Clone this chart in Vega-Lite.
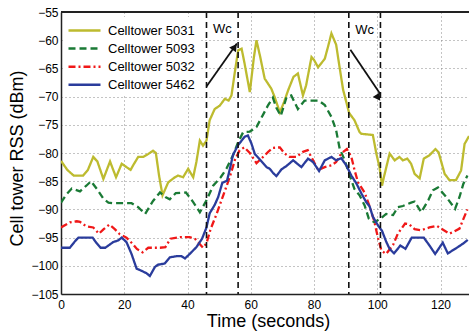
{
  "$schema": "https://vega.github.io/schema/vega-lite/v6.json",
  "width": 408,
  "height": 282,
  "autosize": {"type": "none"},
  "padding": {"left": 61, "top": 12, "right": 0, "bottom": 37},
  "config": {
    "font": "Liberation Sans",
    "view": {"stroke": null},
    "axis": {
      "grid": true,
      "gridDash": [1, 3],
      "gridColor": "#888",
      "gridWidth": 1,
      "domainColor": "#222",
      "domainWidth": 1.5,
      "ticks": false,
      "labelFontSize": 12,
      "labelFontWeight": "normal",
      "labelColor": "#000",
      "labelOverlap": false,
      "labelFlush": false,
      "titleFontSize": 18,
      "titleFontWeight": "normal",
      "titleColor": "#000"
    }
  },
  "datasets": {
    "series": [
      {"s":"Celltower 5031","t":0,"v":-81.4},{"s":"Celltower 5031","t":2,"v":-83},{"s":"Celltower 5031","t":4,"v":-84},{"s":"Celltower 5031","t":7,"v":-84},{"s":"Celltower 5031","t":8.5,"v":-83},{"s":"Celltower 5031","t":10.2,"v":-80.7},{"s":"Celltower 5031","t":11.5,"v":-81.5},{"s":"Celltower 5031","t":13.4,"v":-84.6},{"s":"Celltower 5031","t":15.5,"v":-81.5},{"s":"Celltower 5031","t":17.4,"v":-84.3},{"s":"Celltower 5031","t":19.2,"v":-81.9},{"s":"Celltower 5031","t":20.7,"v":-82.5},{"s":"Celltower 5031","t":22,"v":-83},{"s":"Celltower 5031","t":23,"v":-82},{"s":"Celltower 5031","t":24.4,"v":-80.7},{"s":"Celltower 5031","t":26,"v":-80.7},{"s":"Celltower 5031","t":27.5,"v":-80.2},{"s":"Celltower 5031","t":29.1,"v":-79.6},{"s":"Celltower 5031","t":30,"v":-80},{"s":"Celltower 5031","t":31,"v":-84},{"s":"Celltower 5031","t":32.1,"v":-87.5},{"s":"Celltower 5031","t":33.9,"v":-85.2},{"s":"Celltower 5031","t":36,"v":-84.3},{"s":"Celltower 5031","t":37,"v":-84},{"s":"Celltower 5031","t":38.6,"v":-84.3},{"s":"Celltower 5031","t":40.2,"v":-82.8},{"s":"Celltower 5031","t":41.8,"v":-84.3},{"s":"Celltower 5031","t":42.8,"v":-81.6},{"s":"Celltower 5031","t":43.9,"v":-77.8},{"s":"Celltower 5031","t":44.9,"v":-78.7},{"s":"Celltower 5031","t":46,"v":-77.8},{"s":"Celltower 5031","t":47,"v":-74.2},{"s":"Celltower 5031","t":48.6,"v":-72.2},{"s":"Celltower 5031","t":50.2,"v":-71.6},{"s":"Celltower 5031","t":51.8,"v":-70.4},{"s":"Celltower 5031","t":53,"v":-70.7},{"s":"Celltower 5031","t":53.9,"v":-69.8},{"s":"Celltower 5031","t":54.9,"v":-65.9},{"s":"Celltower 5031","t":56,"v":-61.8},{"s":"Celltower 5031","t":57.1,"v":-61.5},{"s":"Celltower 5031","t":58,"v":-64},{"s":"Celltower 5031","t":59.7,"v":-69.2},{"s":"Celltower 5031","t":61,"v":-63},{"s":"Celltower 5031","t":61.8,"v":-60},{"s":"Celltower 5031","t":63,"v":-63},{"s":"Celltower 5031","t":64.4,"v":-66.8},{"s":"Celltower 5031","t":66.5,"v":-68.6},{"s":"Celltower 5031","t":67.5,"v":-70},{"s":"Celltower 5031","t":69.2,"v":-72.8},{"s":"Celltower 5031","t":70.5,"v":-71},{"s":"Celltower 5031","t":71.8,"v":-68.9},{"s":"Celltower 5031","t":73.5,"v":-66.5},{"s":"Celltower 5031","t":74.9,"v":-65.9},{"s":"Celltower 5031","t":76.5,"v":-69.8},{"s":"Celltower 5031","t":77.5,"v":-68},{"s":"Celltower 5031","t":79.2,"v":-63},{"s":"Celltower 5031","t":80,"v":-63.5},{"s":"Celltower 5031","t":81.3,"v":-64.8},{"s":"Celltower 5031","t":83.4,"v":-63.3},{"s":"Celltower 5031","t":84.5,"v":-61},{"s":"Celltower 5031","t":85.5,"v":-58.8},{"s":"Celltower 5031","t":87,"v":-60.8},{"s":"Celltower 5031","t":88,"v":-64.5},{"s":"Celltower 5031","t":89.2,"v":-68.8},{"s":"Celltower 5031","t":91.1,"v":-72.9},{"s":"Celltower 5031","t":92.8,"v":-74.2},{"s":"Celltower 5031","t":94.4,"v":-76.3},{"s":"Celltower 5031","t":95,"v":-76.6},{"s":"Celltower 5031","t":98.6,"v":-76.8},{"s":"Celltower 5031","t":99.7,"v":-80.1},{"s":"Celltower 5031","t":100.7,"v":-82.5},{"s":"Celltower 5031","t":101.5,"v":-85.8},{"s":"Celltower 5031","t":102,"v":-84.5},{"s":"Celltower 5031","t":103.9,"v":-80.1},{"s":"Celltower 5031","t":105.5,"v":-81.3},{"s":"Celltower 5031","t":107,"v":-80.7},{"s":"Celltower 5031","t":108.1,"v":-81.3},{"s":"Celltower 5031","t":109.5,"v":-81},{"s":"Celltower 5031","t":110.7,"v":-81.9},{"s":"Celltower 5031","t":111.8,"v":-83.7},{"s":"Celltower 5031","t":113.4,"v":-84.5},{"s":"Celltower 5031","t":114.7,"v":-81},{"s":"Celltower 5031","t":116.5,"v":-80.4},{"s":"Celltower 5031","t":118.4,"v":-79.3},{"s":"Celltower 5031","t":119.4,"v":-79.9},{"s":"Celltower 5031","t":121.3,"v":-83.7},{"s":"Celltower 5031","t":122.8,"v":-84.8},{"s":"Celltower 5031","t":124.9,"v":-84.8},{"s":"Celltower 5031","t":126.5,"v":-83.1},{"s":"Celltower 5031","t":127.6,"v":-78.4},{"s":"Celltower 5031","t":129,"v":-77},

      {"s":"Celltower 5093","t":0,"v":-88.8},{"s":"Celltower 5093","t":1.5,"v":-87.5},{"s":"Celltower 5093","t":3.4,"v":-86.3},{"s":"Celltower 5093","t":6,"v":-86.8},{"s":"Celltower 5093","t":8,"v":-85.8},{"s":"Celltower 5093","t":9.5,"v":-85},{"s":"Celltower 5093","t":11.5,"v":-86.5},{"s":"Celltower 5093","t":13.4,"v":-88.1},{"s":"Celltower 5093","t":15,"v":-88.8},{"s":"Celltower 5093","t":16.5,"v":-88.9},{"s":"Celltower 5093","t":22.3,"v":-88.9},{"s":"Celltower 5093","t":24.4,"v":-89.6},{"s":"Celltower 5093","t":26.6,"v":-90.8},{"s":"Celltower 5093","t":29.1,"v":-88.5},{"s":"Celltower 5093","t":31.3,"v":-87},{"s":"Celltower 5093","t":33,"v":-87.8},{"s":"Celltower 5093","t":34.4,"v":-88.2},{"s":"Celltower 5093","t":36.3,"v":-87.1},{"s":"Celltower 5093","t":39.5,"v":-87},{"s":"Celltower 5093","t":41.8,"v":-88.7},{"s":"Celltower 5093","t":43.9,"v":-90.5},{"s":"Celltower 5093","t":46,"v":-88.4},{"s":"Celltower 5093","t":48.1,"v":-85.8},{"s":"Celltower 5093","t":50.5,"v":-84.3},{"s":"Celltower 5093","t":52.3,"v":-82.8},{"s":"Celltower 5093","t":53.4,"v":-81.5},{"s":"Celltower 5093","t":54.4,"v":-80.4},{"s":"Celltower 5093","t":56,"v":-78.1},{"s":"Celltower 5093","t":57.6,"v":-76.3},{"s":"Celltower 5093","t":59.7,"v":-76.2},{"s":"Celltower 5093","t":61.8,"v":-75.4},{"s":"Celltower 5093","t":63.9,"v":-73.2},{"s":"Celltower 5093","t":65.5,"v":-71.5},{"s":"Celltower 5093","t":67,"v":-70.2},{"s":"Celltower 5093","t":68.1,"v":-72},{"s":"Celltower 5093","t":69.5,"v":-73.4},{"s":"Celltower 5093","t":71.3,"v":-70.1},{"s":"Celltower 5093","t":72.8,"v":-69.8},{"s":"Celltower 5093","t":74.9,"v":-72.2},{"s":"Celltower 5093","t":77,"v":-70.7},{"s":"Celltower 5093","t":81.5,"v":-70.7},{"s":"Celltower 5093","t":83.4,"v":-71.5},{"s":"Celltower 5093","t":85.5,"v":-73.6},{"s":"Celltower 5093","t":87,"v":-76},{"s":"Celltower 5093","t":88.1,"v":-79.2},{"s":"Celltower 5093","t":89.7,"v":-81.3},{"s":"Celltower 5093","t":91.3,"v":-84},{"s":"Celltower 5093","t":92.8,"v":-86.4},{"s":"Celltower 5093","t":94.4,"v":-87.5},{"s":"Celltower 5093","t":96,"v":-89.3},{"s":"Celltower 5093","t":97.3,"v":-91.6},{"s":"Celltower 5093","t":99.1,"v":-92.3},{"s":"Celltower 5093","t":101.3,"v":-91.5},{"s":"Celltower 5093","t":102.8,"v":-90.8},{"s":"Celltower 5093","t":105,"v":-91},{"s":"Celltower 5093","t":106.5,"v":-89.6},{"s":"Celltower 5093","t":108.1,"v":-89.4},{"s":"Celltower 5093","t":110.7,"v":-88.8},{"s":"Celltower 5093","t":111.8,"v":-88.6},{"s":"Celltower 5093","t":113.9,"v":-90.5},{"s":"Celltower 5093","t":116.2,"v":-88.3},{"s":"Celltower 5093","t":117.6,"v":-86.6},{"s":"Celltower 5093","t":119.2,"v":-86.1},{"s":"Celltower 5093","t":121.8,"v":-87.8},{"s":"Celltower 5093","t":124.6,"v":-89.9},{"s":"Celltower 5093","t":126,"v":-87.8},{"s":"Celltower 5093","t":127.2,"v":-85.5},{"s":"Celltower 5093","t":128.5,"v":-84},

      {"s":"Celltower 5032","t":0,"v":-93.2},{"s":"Celltower 5032","t":2.8,"v":-92.3},{"s":"Celltower 5032","t":5,"v":-92.1},{"s":"Celltower 5032","t":6,"v":-92.2},{"s":"Celltower 5032","t":8,"v":-93},{"s":"Celltower 5032","t":10.2,"v":-93.2},{"s":"Celltower 5032","t":12,"v":-94.3},{"s":"Celltower 5032","t":13.5,"v":-93.5},{"s":"Celltower 5032","t":15.3,"v":-92.7},{"s":"Celltower 5032","t":17,"v":-93.5},{"s":"Celltower 5032","t":18.6,"v":-94.4},{"s":"Celltower 5032","t":20.7,"v":-95},{"s":"Celltower 5032","t":22.8,"v":-96.2},{"s":"Celltower 5032","t":24,"v":-97},{"s":"Celltower 5032","t":25.8,"v":-97.6},{"s":"Celltower 5032","t":27.6,"v":-96.8},{"s":"Celltower 5032","t":31.3,"v":-96.8},{"s":"Celltower 5032","t":33,"v":-96.7},{"s":"Celltower 5032","t":34.6,"v":-95.2},{"s":"Celltower 5032","t":37.6,"v":-94.9},{"s":"Celltower 5032","t":40.7,"v":-94.9},{"s":"Celltower 5032","t":42.5,"v":-95.3},{"s":"Celltower 5032","t":44.9,"v":-96.8},{"s":"Celltower 5032","t":46,"v":-96},{"s":"Celltower 5032","t":47.3,"v":-93.5},{"s":"Celltower 5032","t":49.2,"v":-90.8},{"s":"Celltower 5032","t":51.3,"v":-87.5},{"s":"Celltower 5032","t":53.4,"v":-84.2},{"s":"Celltower 5032","t":55,"v":-81.2},{"s":"Celltower 5032","t":56.5,"v":-79.5},{"s":"Celltower 5032","t":58,"v":-79},{"s":"Celltower 5032","t":59.7,"v":-80},{"s":"Celltower 5032","t":61.8,"v":-81.8},{"s":"Celltower 5032","t":63.9,"v":-80.7},{"s":"Celltower 5032","t":65.5,"v":-79.8},{"s":"Celltower 5032","t":67,"v":-79.1},{"s":"Celltower 5032","t":69.2,"v":-79},{"s":"Celltower 5032","t":70.7,"v":-80.1},{"s":"Celltower 5032","t":72.3,"v":-80.7},{"s":"Celltower 5032","t":74.4,"v":-80.7},{"s":"Celltower 5032","t":76.5,"v":-79.8},{"s":"Celltower 5032","t":78,"v":-79.5},{"s":"Celltower 5032","t":81.3,"v":-83},{"s":"Celltower 5032","t":83.4,"v":-82.5},{"s":"Celltower 5032","t":85.5,"v":-82.2},{"s":"Celltower 5032","t":87,"v":-81.6},{"s":"Celltower 5032","t":88.6,"v":-80.1},{"s":"Celltower 5032","t":90.4,"v":-79.3},{"s":"Celltower 5032","t":91.8,"v":-80.7},{"s":"Celltower 5032","t":92.8,"v":-83},{"s":"Celltower 5032","t":93.9,"v":-85.2},{"s":"Celltower 5032","t":96,"v":-87},{"s":"Celltower 5032","t":97.6,"v":-89.5},{"s":"Celltower 5032","t":99,"v":-92},{"s":"Celltower 5032","t":100.2,"v":-95},{"s":"Celltower 5032","t":101.3,"v":-97.3},{"s":"Celltower 5032","t":102.8,"v":-97.9},{"s":"Celltower 5032","t":105,"v":-96.3},{"s":"Celltower 5032","t":106.5,"v":-94.3},{"s":"Celltower 5032","t":108.8,"v":-92.5},{"s":"Celltower 5032","t":110,"v":-92.6},{"s":"Celltower 5032","t":111.8,"v":-93.5},{"s":"Celltower 5032","t":113.9,"v":-93.7},{"s":"Celltower 5032","t":116.5,"v":-93.2},{"s":"Celltower 5032","t":118.8,"v":-92.9},{"s":"Celltower 5032","t":120.2,"v":-93.4},{"s":"Celltower 5032","t":122.8,"v":-94.3},{"s":"Celltower 5032","t":124.4,"v":-93.9},{"s":"Celltower 5032","t":126,"v":-93.4},{"s":"Celltower 5032","t":127,"v":-92},{"s":"Celltower 5032","t":128.5,"v":-90},

      {"s":"Celltower 5462","t":0,"v":-96.8},{"s":"Celltower 5462","t":2.8,"v":-96.8},{"s":"Celltower 5462","t":4.5,"v":-95.6},{"s":"Celltower 5462","t":5.5,"v":-95},{"s":"Celltower 5462","t":10,"v":-95},{"s":"Celltower 5462","t":11,"v":-95.8},{"s":"Celltower 5462","t":12.5,"v":-96.8},{"s":"Celltower 5462","t":14,"v":-96.8},{"s":"Celltower 5462","t":16.5,"v":-95.8},{"s":"Celltower 5462","t":18.1,"v":-95.5},{"s":"Celltower 5462","t":19.2,"v":-95},{"s":"Celltower 5462","t":20.7,"v":-95.8},{"s":"Celltower 5462","t":22.3,"v":-97.9},{"s":"Celltower 5462","t":23.9,"v":-100.5},{"s":"Celltower 5462","t":25.5,"v":-100.9},{"s":"Celltower 5462","t":27,"v":-101.3},{"s":"Celltower 5462","t":28.1,"v":-101.8},{"s":"Celltower 5462","t":29.7,"v":-100.2},{"s":"Celltower 5462","t":30.7,"v":-99.8},{"s":"Celltower 5462","t":32.8,"v":-99.6},{"s":"Celltower 5462","t":34.4,"v":-98.5},{"s":"Celltower 5462","t":36.5,"v":-98.3},{"s":"Celltower 5462","t":38.1,"v":-98.3},{"s":"Celltower 5462","t":39.2,"v":-98.7},{"s":"Celltower 5462","t":40.7,"v":-97.9},{"s":"Celltower 5462","t":42.8,"v":-96.7},{"s":"Celltower 5462","t":44.6,"v":-95.2},{"s":"Celltower 5462","t":46,"v":-93.2},{"s":"Celltower 5462","t":47,"v":-90.7},{"s":"Celltower 5462","t":48.6,"v":-89.2},{"s":"Celltower 5462","t":49.7,"v":-87.8},{"s":"Celltower 5462","t":51,"v":-85.3},{"s":"Celltower 5462","t":52.5,"v":-84.9},{"s":"Celltower 5462","t":53.4,"v":-82.8},{"s":"Celltower 5462","t":54.4,"v":-80.3},{"s":"Celltower 5462","t":56,"v":-78.6},{"s":"Celltower 5462","t":58.1,"v":-77.1},{"s":"Celltower 5462","t":59.1,"v":-76.9},{"s":"Celltower 5462","t":60.2,"v":-78.3},{"s":"Celltower 5462","t":61.3,"v":-80.2},{"s":"Celltower 5462","t":62.8,"v":-81.1},{"s":"Celltower 5462","t":65,"v":-82.5},{"s":"Celltower 5462","t":66,"v":-82.8},{"s":"Celltower 5462","t":67,"v":-83.5},{"s":"Celltower 5462","t":68.1,"v":-84.1},{"s":"Celltower 5462","t":69.7,"v":-82.9},{"s":"Celltower 5462","t":71.3,"v":-82.3},{"s":"Celltower 5462","t":73.4,"v":-81.3},{"s":"Celltower 5462","t":74.5,"v":-81.8},{"s":"Celltower 5462","t":76,"v":-82.5},{"s":"Celltower 5462","t":78.1,"v":-81},{"s":"Celltower 5462","t":79.7,"v":-81.6},{"s":"Celltower 5462","t":81.6,"v":-83.2},{"s":"Celltower 5462","t":83.4,"v":-81.3},{"s":"Celltower 5462","t":85.5,"v":-80.7},{"s":"Celltower 5462","t":87,"v":-81.3},{"s":"Celltower 5462","t":88.6,"v":-80.9},{"s":"Celltower 5462","t":90.2,"v":-82.2},{"s":"Celltower 5462","t":91.8,"v":-84},{"s":"Celltower 5462","t":93.4,"v":-85.4},{"s":"Celltower 5462","t":95,"v":-87.2},{"s":"Celltower 5462","t":96.5,"v":-88.7},{"s":"Celltower 5462","t":97.6,"v":-89.5},{"s":"Celltower 5462","t":98.6,"v":-91.3},{"s":"Celltower 5462","t":100.4,"v":-93},{"s":"Celltower 5462","t":101.5,"v":-93.8},{"s":"Celltower 5462","t":102.8,"v":-95.7},{"s":"Celltower 5462","t":103.9,"v":-97},{"s":"Celltower 5462","t":105.3,"v":-97.8},{"s":"Celltower 5462","t":107.3,"v":-96.4},{"s":"Celltower 5462","t":108.9,"v":-97},{"s":"Celltower 5462","t":110.9,"v":-95},{"s":"Celltower 5462","t":114.7,"v":-95},{"s":"Celltower 5462","t":116.5,"v":-96.4},{"s":"Celltower 5462","t":118.3,"v":-97.9},{"s":"Celltower 5462","t":120.7,"v":-95.9},{"s":"Celltower 5462","t":122.3,"v":-97.8},{"s":"Celltower 5462","t":124.9,"v":-96.9},{"s":"Celltower 5462","t":127.3,"v":-96},{"s":"Celltower 5462","t":128.6,"v":-95.4}
    ],
    "vlines": [{"t": 46}, {"t": 56}, {"t": 91}, {"t": 101}],
    "labels": [{"t": 51, "v": -58.1, "label": "Wc"}, {"t": 96, "v": -58.2, "label": "Wc"}],
    "arrows": [
      {"id": "a1", "t": 46, "v": -68.2, "t2": 55.6, "v2": -60.6},
      {"id": "a2", "t": 91.5, "v": -61.7, "t2": 101, "v2": -69.6}
    ],
    "heads": [
      {"id": "a1", "t": 54.9, "v": -61.2},
      {"id": "a2", "t": 100.3, "v": -70.2}
    ],
    "frame": [{"v": -55}]
  },
  "layer": [
    {
      "data": {"name": "series"},
      "mark": {"type": "line", "strokeWidth": 2.3, "clip": true},
      "encoding": {
        "x": {"field": "t", "type": "quantitative", "scale": {"domain": [0, 129], "nice": false},
              "axis": {"values": [0, 20, 40, 60, 80, 100, 120], "title": "Time (seconds)", "labelPadding": 5, "titlePadding": 2, "titleX": 207}},
        "y": {"field": "v", "type": "quantitative", "scale": {"domain": [-105, -55], "nice": false},
              "axis": {"values": [-105, -100, -95, -90, -85, -80, -75, -70, -65, -60, -55], "title": "Cell tower RSS (dBm)", "labelPadding": 3, "titlePadding": 4, "titleY": 146}},
        "color": {
          "field": "s", "type": "nominal",
          "scale": {"domain": ["Celltower 5031", "Celltower 5093", "Celltower 5032", "Celltower 5462"],
                    "range": ["#bdbb2f", "#1a7a35", "#f01818", "#2a3c9c"]},
          "legend": {
            "title": null, "orient": "none", "legendX": 2, "legendY": 5,
            "fillColor": "white", "padding": 4, "symbolType": "M-2,0L2,0", "symbolSize": 256,
            "symbolStrokeWidth": 2.5, "labelFontSize": 13, "labelFontWeight": "normal", "labelColor": "#000",
            "labelOffset": 14, "rowPadding": 1.1, "labelLimit": 200, "symbolOffset": 8
          }
        },
        "strokeDash": {
          "field": "s", "type": "nominal",
          "scale": {"domain": ["Celltower 5031", "Celltower 5093", "Celltower 5032", "Celltower 5462"],
                    "range": [[1, 0], [7, 4], [7, 3, 2, 3], [1, 0]]}
        }
      }
    },
    {
      "data": {"name": "vlines"},
      "mark": {"type": "rule", "color": "#111", "strokeWidth": 1.6, "strokeDash": [6, 4]},
      "encoding": {
        "x": {"field": "t", "type": "quantitative", "scale": {"domain": [0, 129], "nice": false},
              "axis": {"values": [0, 20, 40, 60, 80, 100, 120], "title": "Time (seconds)", "labelPadding": 5, "titlePadding": 2, "titleX": 207}}
      }
    },
    {
      "data": {"name": "labels"},
      "mark": {"type": "text", "fontSize": 13, "color": "#000"},
      "encoding": {
        "x": {"field": "t", "type": "quantitative", "scale": {"domain": [0, 129], "nice": false},
              "axis": {"values": [0, 20, 40, 60, 80, 100, 120], "title": "Time (seconds)", "labelPadding": 5, "titlePadding": 2, "titleX": 207}},
        "y": {"field": "v", "type": "quantitative", "scale": {"domain": [-105, -55], "nice": false},
              "axis": {"values": [-105, -100, -95, -90, -85, -80, -75, -70, -65, -60, -55], "title": "Cell tower RSS (dBm)", "labelPadding": 3, "titlePadding": 4, "titleY": 146}},
        "text": {"field": "label"}
      }
    },
    {
      "data": {"name": "arrows"},
      "mark": {"type": "rule", "color": "#111", "strokeWidth": 1.8},
      "encoding": {
        "x": {"field": "t", "type": "quantitative", "scale": {"domain": [0, 129], "nice": false},
              "axis": {"values": [0, 20, 40, 60, 80, 100, 120], "title": "Time (seconds)", "labelPadding": 5, "titlePadding": 2, "titleX": 207}},
        "y": {"field": "v", "type": "quantitative", "scale": {"domain": [-105, -55], "nice": false},
              "axis": {"values": [-105, -100, -95, -90, -85, -80, -75, -70, -65, -60, -55], "title": "Cell tower RSS (dBm)", "labelPadding": 3, "titlePadding": 4, "titleY": 146}},
        "x2": {"field": "t2"},
        "y2": {"field": "v2"}
      }
    },
    {
      "data": {"name": "heads"},
      "transform": [{"filter": "datum.id == 'a1'"}],
      "mark": {"type": "point", "shape": "triangle-up", "filled": true, "color": "#111", "size": 70, "angle": 35, "opacity": 1},
      "encoding": {
        "x": {"field": "t", "type": "quantitative", "scale": {"domain": [0, 129], "nice": false},
              "axis": {"values": [0, 20, 40, 60, 80, 100, 120], "title": "Time (seconds)", "labelPadding": 5, "titlePadding": 2, "titleX": 207}},
        "y": {"field": "v", "type": "quantitative", "scale": {"domain": [-105, -55], "nice": false},
              "axis": {"values": [-105, -100, -95, -90, -85, -80, -75, -70, -65, -60, -55], "title": "Cell tower RSS (dBm)", "labelPadding": 3, "titlePadding": 4, "titleY": 146}}
      }
    },
    {
      "data": {"name": "heads"},
      "transform": [{"filter": "datum.id == 'a2'"}],
      "mark": {"type": "point", "shape": "triangle-up", "filled": true, "color": "#111", "size": 70, "angle": 146, "opacity": 1},
      "encoding": {
        "x": {"field": "t", "type": "quantitative", "scale": {"domain": [0, 129], "nice": false},
              "axis": {"values": [0, 20, 40, 60, 80, 100, 120], "title": "Time (seconds)", "labelPadding": 5, "titlePadding": 2, "titleX": 207}},
        "y": {"field": "v", "type": "quantitative", "scale": {"domain": [-105, -55], "nice": false},
              "axis": {"values": [-105, -100, -95, -90, -85, -80, -75, -70, -65, -60, -55], "title": "Cell tower RSS (dBm)", "labelPadding": 3, "titlePadding": 4, "titleY": 146}}
      }
    },
    {
      "data": {"name": "frame"},
      "mark": {"type": "rule", "color": "#222", "strokeWidth": 2},
      "encoding": {
        "y": {"field": "v", "type": "quantitative", "scale": {"domain": [-105, -55], "nice": false},
              "axis": {"values": [-105, -100, -95, -90, -85, -80, -75, -70, -65, -60, -55], "title": "Cell tower RSS (dBm)", "labelPadding": 3, "titlePadding": 4, "titleY": 146}}
      }
    }
  ]
}
